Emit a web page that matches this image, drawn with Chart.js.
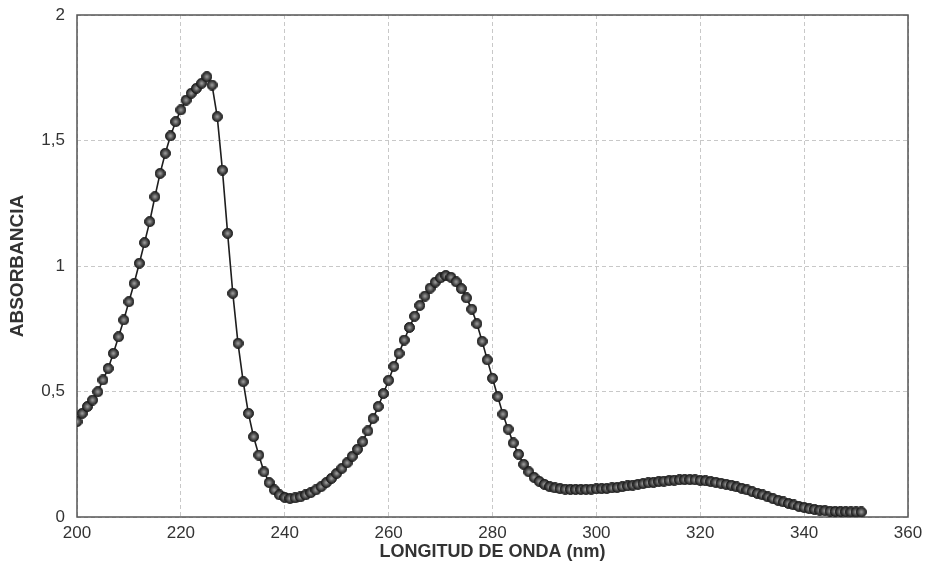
<!DOCTYPE html>
<html lang="es">
<head>
  <meta charset="UTF-8">
  <title>Espectro de absorción</title>
  <script src="https://cdn.jsdelivr.net/npm/chart.js"></script>
  <style>
    body {
      margin: 0;
      background: #fff;
    }
    #wrap {
      width: 930px;
      height: 583px;
    }
  </style>
</head>
<body>

<div id="wrap">
  <canvas id="chartEspectro" width="930" height="583"></canvas>
</div>

<script>
  // Longitudes de onda (nm)
  const longitudes = [
    200, 201, 202, 203, 204, 205, 206, 207, 208, 209,
    210, 211, 212, 213, 214, 215, 216, 217, 218, 219,
    220, 221, 222, 223, 224, 225, 226, 227, 228, 229,
    230, 231, 232, 233, 234, 235, 236, 237, 238, 239,
    240, 241, 242, 243, 244, 245, 246, 247, 248, 249,
    250, 251, 252, 253, 254, 255, 256, 257, 258, 259,
    260, 261, 262, 263, 264, 265, 266, 267, 268, 269,
    270, 271, 272, 273, 274, 275, 276, 277, 278, 279,
    280, 281, 282, 283, 284, 285, 286, 287, 288, 289,
    290, 291, 292, 293, 294, 295, 296, 297, 298, 299,
    300, 301, 302, 303, 304, 305, 306, 307, 308, 309,
    310, 311, 312, 313, 314, 315, 316, 317, 318, 319,
    320, 321, 322, 323, 324, 325, 326, 327, 328, 329,
    330, 331, 332, 333, 334, 335, 336, 337, 338, 339,
    340, 341, 342, 343, 344, 345, 346, 347, 348, 349,
    350, 351
  ];

  // Absorbancia
  const absorbancia = [
    0.380, 0.413, 0.440, 0.466, 0.499, 0.546, 0.592, 0.652, 0.718, 0.785,
    0.858, 0.931, 1.011, 1.093, 1.177, 1.276, 1.369, 1.449, 1.518, 1.575,
    1.622, 1.661, 1.688, 1.708, 1.728, 1.754, 1.721, 1.595, 1.382, 1.130,
    0.891, 0.692, 0.539, 0.413, 0.320, 0.247, 0.180, 0.137, 0.108, 0.088,
    0.078, 0.074, 0.076, 0.080, 0.088, 0.097, 0.108, 0.121, 0.137, 0.154,
    0.174, 0.194, 0.216, 0.242, 0.270, 0.300, 0.343, 0.392, 0.440, 0.492,
    0.545, 0.600, 0.652, 0.705, 0.755, 0.800, 0.843, 0.880, 0.912, 0.936,
    0.953, 0.962, 0.955, 0.937, 0.910, 0.873, 0.828, 0.770, 0.700, 0.626,
    0.553, 0.480, 0.410, 0.350, 0.295, 0.250, 0.210, 0.180, 0.158, 0.142,
    0.130, 0.121, 0.116, 0.113, 0.111, 0.110, 0.110, 0.110, 0.110, 0.111,
    0.112, 0.113, 0.114, 0.116, 0.118, 0.121, 0.124, 0.127, 0.130, 0.133,
    0.136, 0.138, 0.141, 0.143, 0.145, 0.147, 0.148, 0.149, 0.149, 0.148,
    0.146, 0.144, 0.141, 0.138, 0.134, 0.130, 0.126, 0.120, 0.114, 0.108,
    0.101, 0.094, 0.088, 0.080, 0.073, 0.066, 0.060, 0.054, 0.048, 0.042,
    0.038, 0.033, 0.030, 0.027, 0.025, 0.023, 0.022, 0.021, 0.021, 0.020,
    0.020, 0.020
  ];

  // Ticks de los ejes
  const ticksX = [200, 220, 240, 260, 280, 300, 320, 340, 360];
  const ticksY = [0, 0.5, 1, 1.5, 2];

  // Marcador tipo "bola" como en el original
  function crearBola(d) {
    const c = document.createElement('canvas');
    c.width = d;
    c.height = d;
    const g = c.getContext('2d');
    const r = d / 2;
    const grad = g.createRadialGradient(r, r, 0.5, r, r, r);
    grad.addColorStop(0, '#9a9a9a');
    grad.addColorStop(0.4, '#5a5a5a');
    grad.addColorStop(1, '#141414');
    g.fillStyle = grad;
    g.beginPath();
    g.arc(r, r, r - 0.5, 0, Math.PI * 2);
    g.fill();
    g.strokeStyle = '#1a1a1a';
    g.lineWidth = 1;
    g.stroke();
    return c;
  }

  // Marco del area de trazado
  const marco = {
    id: 'marco',
    beforeDatasetsDraw(chart) {
      const { ctx, chartArea: a } = chart;
      ctx.save();
      ctx.strokeStyle = '#555';
      ctx.lineWidth = 1.5;
      ctx.strokeRect(a.left, a.top, a.right - a.left, a.bottom - a.top);
      ctx.restore();
    }
  };

  const coma = v => String(v).replace('.', ',');
  const fuente = 'Liberation Sans, Arial, sans-serif';

  new Chart(document.getElementById('chartEspectro'), {
    type: 'scatter',
    data: {
      datasets: [{
        label: 'Absorbancia',
        data: longitudes.map((x, i) => ({ x: x, y: absorbancia[i] })),
        showLine: true,
        borderColor: '#1e1e1e',
        borderWidth: 1.6,
        pointStyle: crearBola(11),
        pointRadius: 5.5,
        pointHoverRadius: 5.5,
        tension: 0
      }]
    },
    options: {
      responsive: false,
      animation: false,
      layout: { padding: { top: 15, right: 22, left: 0, bottom: 0 } },
      plugins: {
        legend: { display: false },
        tooltip: { enabled: false }
      },
      scales: {
        x: {
          type: 'linear',
          min: 200,
          max: 360,
          afterFit: s => { s.height = 66; },
          afterBuildTicks: s => { s.ticks = ticksX.map(v => ({ value: v })); },
          grid: {
            color: '#c8c8c8',
            drawTicks: false
          },
          border: { display: false, dash: [4, 3] },
          ticks: {
            padding: 6,
            color: '#333',
            font: { family: fuente, size: 17 },
            callback: coma
          },
          title: {
            display: true,
            text: 'LONGITUD DE ONDA (nm)',
            color: '#333',
            padding: { bottom: 20 },
            font: { family: fuente, size: 18, weight: 'bold' }
          }
        },
        y: {
          min: 0,
          max: 2,
          afterFit: s => { s.width = 77; s.paddingTop = 0; s.paddingBottom = 0; },
          afterBuildTicks: s => { s.ticks = ticksY.map(v => ({ value: v })); },
          grid: {
            color: '#c8c8c8',
            drawTicks: false
          },
          border: { display: false, dash: [4, 3] },
          ticks: {
            padding: 12,
            color: '#333',
            font: { family: fuente, size: 17 },
            callback: coma
          },
          title: {
            display: true,
            text: 'ABSORBANCIA',
            color: '#333',
            padding: { top: 6 },
            font: { family: fuente, size: 19, weight: 'bold' }
          }
        }
      }
    },
    plugins: [marco]
  });
</script>

</body>
</html>
